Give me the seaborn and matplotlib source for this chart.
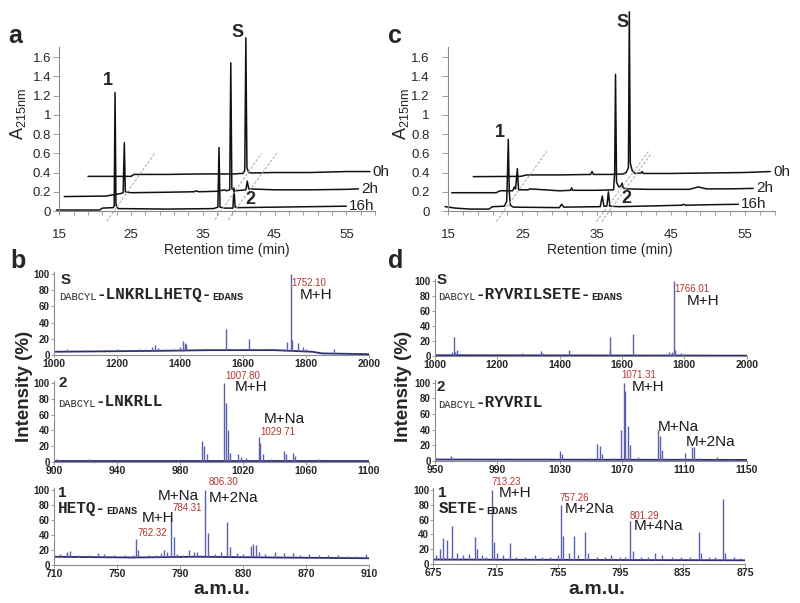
import numpy as np
import matplotlib
matplotlib.use("Agg")
import matplotlib.pyplot as plt
import seaborn as sns

# ---- HPLC traces (retention time in min, A215) ----
A_0H_T = [19.0, 25.0, 25.4, 30.0, 35.0, 39.5, 40.2, 40.6, 40.85, 41.0, 41.15, 41.4, 41.8, 45.0, 50.0, 55.0, 58.3]
A_0H_Y = [0.36, 0.36, 0.38, 0.38, 0.385, 0.385, 0.39, 0.39, 0.42, 1.80, 0.45, 0.40, 0.395, 0.40, 0.40, 0.41, 0.41]
A_2H_T = [15.7, 21.5, 22.6, 23.5, 23.9, 24.06, 24.2, 25.0, 30.0, 33.8, 34.1, 34.4, 37.0, 38.0, 38.3, 38.75,
          38.9, 39.05, 39.5, 41.0, 41.2, 41.4, 45.0, 50.0, 55.0, 56.7]
A_2H_Y = [0.15, 0.155, 0.17, 0.18, 0.19, 0.71, 0.20, 0.19, 0.195, 0.20, 0.21, 0.20, 0.205, 0.22, 0.21, 0.22,
          1.54, 0.23, 0.21, 0.22, 0.31, 0.23, 0.22, 0.22, 0.225, 0.23]
A_16H_T = [14.6, 20.6, 21.0, 22.5, 22.65, 22.77, 22.9, 23.2, 30.0, 36.5, 37.1, 37.26, 37.4, 38.0, 39.2,
           39.35, 39.5, 40.0, 45.0, 50.0, 55.0]
A_16H_Y = [0.01, 0.01, 0.03, 0.035, 0.05, 1.23, 0.06, 0.025, 0.02, 0.025, 0.04, 0.66, 0.04, 0.03, 0.03,
           0.24, 0.04, 0.035, 0.04, 0.045, 0.05]

C_0H_T = [18.4, 24.8, 25.6, 30.0, 34.2, 34.4, 34.6, 37.0, 38.6, 39.0, 39.3, 39.42, 39.55, 39.8, 40.2, 41.0,
          41.15, 41.3, 45.0, 50.0, 55.0, 58.4]
C_0H_Y = [0.357, 0.36, 0.375, 0.375, 0.38, 0.41, 0.38, 0.38, 0.385, 0.40, 0.45, 2.07, 0.50, 0.42, 0.39, 0.395,
          0.41, 0.39, 0.39, 0.395, 0.40, 0.41]
C_2H_T = [15.5, 21.5, 22.0, 23.7, 23.95, 24.1, 24.34, 24.5, 25.8, 26.0, 30.0, 31.5, 31.65, 31.8, 35.0, 37.3,
          37.45, 37.56, 37.7, 38.0, 38.3, 38.45, 38.6, 39.0, 42.0, 47.5, 48.7, 49.8, 53.0, 56.1]
C_2H_Y = [0.19, 0.19, 0.21, 0.21, 0.25, 0.23, 0.44, 0.22, 0.22, 0.23, 0.21, 0.215, 0.24, 0.215, 0.215, 0.22,
          0.40, 1.42, 0.30, 0.25, 0.26, 0.29, 0.24, 0.23, 0.225, 0.225, 0.25, 0.23, 0.23, 0.235]
C_16H_T = [14.6, 16.0, 18.0, 20.5, 21.0, 22.6, 22.9, 23.0, 23.12, 23.25, 23.4, 23.8, 30.0, 30.3, 30.6, 35.5,
           35.78, 36.0, 36.4, 36.6, 36.8, 38.0, 46.5, 46.7, 47.0, 50.0, 54.1]
C_16H_Y = [0.045, 0.03, 0.02, 0.02, 0.045, 0.05, 0.10, 0.35, 0.745, 0.20, 0.06, 0.04, 0.035, 0.07, 0.04, 0.045,
           0.155, 0.05, 0.05, 0.20, 0.05, 0.045, 0.06, 0.07, 0.06, 0.065, 0.07]

TRACE_NAMES = ["0h", "2h", "16h"]
A_GUIDES = [((21.6, -0.107), (28.3, 0.60)), ((36.7, -0.09), (43.2, 0.60)), ((38.55, -0.09), (45.3, 0.60))]
C_GUIDES = [((21.5, -0.11), (28.3, 0.62)), ((35.0, -0.11), (42.0, 0.62)), ((35.7, -0.11), (42.4, 0.60))]

# ---- MS spectra (m/z, intensity %) ----
B_S_BASE_MZ = [1000, 1300, 1500, 1700, 1820, 1850, 2000]
B_S_BASE_I = [4, 5, 6, 6, 4, 2, 1]
B_S_MZ = [1040, 1100, 1150, 1200, 1240, 1270, 1290, 1310, 1320, 1330, 1345, 1380, 1400, 1410, 1415, 1420,
          1460, 1500, 1520, 1545, 1580, 1620, 1650, 1680, 1720, 1740, 1752, 1757, 1775, 1790, 1800, 1820,
          1870, 1890, 1950]
B_S_I = [7, 6, 6, 8, 6, 7, 8, 10, 12, 9, 8, 8, 10, 17, 15, 14,
         7, 7, 8, 32, 7, 20, 8, 6, 8, 16, 100, 18, 15, 10, 7, 5,
         3, 8, 2]

B_2_BASE_MZ = [900, 1100]
B_2_BASE_I = [1, 1]
B_2_MZ = [902, 904, 922, 960, 978, 990, 994, 995.5, 997, 1008, 1009, 1010.5, 1012, 1017, 1019, 1022,
          1030, 1031, 1032.5, 1038, 1046, 1047, 1052, 1053, 1068]
B_2_I = [4, 3, 4, 2, 2, 3, 26, 20, 10, 100, 75, 40, 12, 10, 6, 5,
         32, 24, 10, 4, 14, 10, 11, 7, 4]

B_1_BASE_MZ = [710, 760, 800, 850, 910]
B_1_BASE_I = [11, 10, 11, 10, 9]
B_1_MZ = [714, 718, 720, 726, 732, 738, 742, 748, 755, 760, 762, 763.5, 770, 775, 778, 780, 782, 784.5,
          786, 788, 792, 796, 799, 801, 803, 806, 808, 812, 816, 820, 822, 826, 830, 835, 836.5, 838,
          840, 844, 850, 856, 862, 866, 872, 878, 884, 890, 896, 902, 908]
B_1_I = [15, 17, 19, 14, 13, 16, 15, 13, 14, 13, 35, 20, 14, 13, 16, 20, 18, 62,
         38, 15, 14, 20, 18, 17, 14, 100, 43, 15, 18, 57, 24, 16, 15, 26, 28, 27,
         18, 15, 17, 16, 16, 14, 15, 14, 13, 13, 12, 12, 15]

D_S_BASE_MZ = [1000, 2000]
D_S_BASE_I = [1, 0.5]
D_S_MZ = [1055, 1060, 1065, 1072, 1100, 1200, 1280, 1340, 1345, 1430, 1500, 1520, 1560, 1563, 1600, 1635,
          1700, 1740, 1750, 1760, 1766, 1770, 1790, 1800, 1955]
D_S_I = [5, 26, 6, 8, 2, 2, 4, 7, 4, 8, 2, 2, 25, 8, 2, 30,
         2, 3, 5, 6, 100, 8, 4, 3, 2]

D_2_BASE_MZ = [950, 1150]
D_2_BASE_I = [1.5, 1]
D_2_MZ = [951, 955, 960, 962, 975, 1000, 1010, 1020, 1030, 1031.5, 1050, 1054, 1055.5, 1057, 1065, 1069.5,
          1071, 1072, 1073.5, 1075, 1080, 1093, 1094, 1095.5, 1098, 1108, 1110, 1115, 1116, 1120, 1131, 1140]
D_2_I = [3, 2, 6, 3, 2, 2, 2, 3, 13, 9, 3, 22, 19, 8, 3, 40,
         100, 90, 45, 20, 5, 40, 32, 14, 4, 3, 10, 17, 18, 4, 5, 2]

D_1_BASE_MZ = [675, 875]
D_1_BASE_I = [6, 5]
D_1_MZ = [677, 679, 681, 684, 687, 690, 694, 698, 702, 703, 706, 709, 712.5, 714, 716, 720, 724, 728,
          734, 740, 745, 750, 755, 757, 758, 762, 765.5, 768, 772.5, 774, 780, 785, 789, 795, 798, 801,
          803, 808, 813, 817, 822, 828, 834, 840, 845.5, 847, 852, 856, 860.7, 862, 868, 872]
D_1_I = [12, 20, 35, 33, 52, 15, 12, 14, 37, 20, 12, 10, 100, 30, 15, 12, 28, 10,
         10, 12, 9, 10, 12, 80, 38, 15, 38, 12, 43, 15, 9, 10, 12, 10, 9, 58,
         18, 10, 9, 15, 12, 10, 9, 10, 43, 15, 9, 10, 88, 15, 9, 8]

# ---- styling ----
sns.set_theme(style="ticks")
plt.rcParams["font.family"] = ["Liberation Sans", "DejaVu Sans"]
plt.rcParams["mathtext.fontset"] = "custom"
plt.rcParams["mathtext.rm"] = "Liberation Sans"

RED = "#b3352d"
STEM = "#5b5fae"
NAVY = "#2b2d6e"
GRID = "#8c8c8c"
MONO = "Liberation Mono"

W, H = 800, 603
fig = plt.figure(figsize=(8, 6.03), dpi=100)


def add_ax(left, top, right, bottom):
    return fig.add_axes([left / W, 1 - bottom / H, (right - left) / W, (bottom - top) / H])


def chromatogram(ax, traces, guides, marks, ypad):
    for (t, v), name in zip(traces, TRACE_NAMES):
        sns.lineplot(x=t, y=v, ax=ax, color="#111111", lw=1.1, estimator=None, sort=False, clip_on=False)
        ax.text(t[-1] + 0.4, v[-1], name, fontsize=11, color="#222222", ha="left", va="center", clip_on=False)
    for (x0, y0), (x1, y1) in guides:
        ax.plot([x0, x1], [y0, y1], color="#b0b0b0", lw=0.8, ls=(0, (2.5, 1.5)), clip_on=False)
    for txt, x, y in marks:
        ax.text(x, y, txt, fontsize=13, weight="bold", ha="center", va="center", clip_on=False)
    ax.set_xlim(15, 59)
    ax.set_ylim(0, 1.7)
    ax.set_xticks([15, 25, 35, 45, 55])
    ax.set_xticks(np.arange(15, 60, 2), minor=True)
    ax.set_yticks(np.arange(0, 1.61, 0.2))
    ax.set_yticklabels([f"{v:g}" for v in np.arange(0, 1.61, 0.2).round(1)])
    ax.tick_params(axis="x", which="both", length=3, width=0.6, color=GRID, pad=10, labelsize=9.5)
    ax.tick_params(axis="y", length=4, width=0.6, color=GRID, pad=ypad, labelsize=9.5)
    for s in ["top", "right"]:
        ax.spines[s].set_visible(False)
    for s in ["left", "bottom"]:
        ax.spines[s].set_color(GRID)
        ax.spines[s].set_linewidth(0.8)
    ax.set_xlabel("")
    ax.set_ylabel("")


def spectrum(ax, base_mz, base_i, mz, inten, xticks, tag, seq, notes, seq_xy):
    sns.lineplot(x=base_mz, y=base_i, ax=ax, color=NAVY, lw=1.3, estimator=None, sort=False)
    foot = np.interp(mz, base_mz, base_i)
    ax.vlines(mz, foot, inten, color=STEM, lw=1.0)
    ax.set_xlim(xticks[0], xticks[-1])
    ax.set_ylim(0, 103)
    ax.set_xticks(xticks)
    ax.set_yticks([0, 20, 40, 60, 80, 100])
    ax.tick_params(axis="x", length=2, width=0.6, color=GRID, pad=1, labelsize=7.5)
    ax.tick_params(axis="y", length=2, width=0.6, color=GRID, pad=1, labelsize=7)
    for lab in ax.get_xticklabels() + ax.get_yticklabels():
        lab.set_fontweight("bold")
    for s in ["top", "right"]:
        ax.spines[s].set_visible(False)
    for s in ["left", "bottom"]:
        ax.spines[s].set_color(GRID)
        ax.spines[s].set_linewidth(0.8)
    ax.set_xlabel("")
    ax.set_ylabel("")
    ax.text(tag[1], tag[2], tag[0], fontsize=11, weight="bold", ha="left", va="center")
    prev = ax.annotate(seq[0][0], xy=seq_xy, xytext=(0, -6.5), textcoords="offset points",
                       fontsize=seq[0][1], weight=seq[0][2], family=MONO, ha="left", va="bottom")
    for txt, size, weight in seq[1:]:
        prev = ax.annotate(txt, xy=(1, 0), xycoords=prev, fontsize=size, weight=weight,
                           family=MONO, ha="left", va="bottom")
    for txt, x, y, red in notes:
        ax.text(x, y, txt, fontsize=7 if red else 11, color=RED if red else "#1a1a1a",
                ha="left", va="center", clip_on=False)


# ---- panel a / c ----
ax_a = add_ax(59.3, 47.4, 59.3 + 44 * 7.175, 211)
chromatogram(ax_a, [(A_0H_T, A_0H_Y), (A_2H_T, A_2H_Y), (A_16H_T, A_16H_Y)], A_GUIDES,
             [("S", 39.9, 1.85), ("1", 21.8, 1.36), ("2", 41.7, 0.115)], ypad=2)
ax_c = add_ax(448, 47.4, 448 + 44 * 7.425, 211)
chromatogram(ax_c, [(C_0H_T, C_0H_Y), (C_2H_T, C_2H_Y), (C_16H_T, C_16H_Y)], C_GUIDES,
             [("S", 38.57, 1.96), ("1", 22.0, 0.82), ("2", 39.07, 0.135)], ypad=9)

ylab = r"A$_{\mathregular{215nm}}$"
fig.text(17.5 / W, 1 - 114 / H, ylab, rotation=90, fontsize=13, ha="center", va="center")
fig.text(401 / W, 1 - 114 / H, ylab, rotation=90, fontsize=13, ha="center", va="center")
fig.text(227 / W, 1 - 250 / H, "Retention time (min)", fontsize=10, ha="center", va="center")
fig.text(610 / W, 1 - 250 / H, "Retention time (min)", fontsize=10, ha="center", va="center")

# ---- panel b ----
ax = add_ax(54, 355 - 103 * 0.81, 369, 355)
spectrum(ax, B_S_BASE_MZ, B_S_BASE_I, B_S_MZ, B_S_I, [1000, 1200, 1400, 1600, 1800, 2000],
         ("S", 1020, 93), [("DABCYL", 7.5, "normal"), ("-LNKRLLHETQ-", 11.5, "bold"), ("EDANS", 7.5, "bold")],
         [("1752.10", 1752, 89, True), ("M+H", 1779, 74, False)], (1017, 76))
ax = add_ax(54, 462 - 103 * 0.79, 369, 462)
spectrum(ax, B_2_BASE_MZ, B_2_BASE_I, B_2_MZ, B_2_I, [900, 940, 980, 1020, 1060, 1100],
         ("2", 903, 100), [("DABCYL", 7.5, "normal"), ("-LNKRLL", 11.5, "bold")],
         [("1007.80", 1009, 109, True), ("M+H", 1015, 95, False),
          ("M+Na", 1033, 55, False), ("1029.71", 1031, 38, True)], (902.7, 78.5))
ax = add_ax(54, 565 - 103 * 0.75, 369, 565)
spectrum(ax, B_1_BASE_MZ, B_1_BASE_I, B_1_MZ, B_1_I, [710, 750, 790, 830, 870, 910],
         ("1", 712.7, 95.6), [("HETQ-", 11.5, "bold"), ("EDANS", 7.5, "bold")],
         [("M+H", 765.5, 62, False), ("762.32", 763, 42, True), ("M+Na", 776, 92, False),
          ("784.31", 785, 75.6, True), ("806.30", 808, 111, True), ("M+2Na", 808, 90, False)], (712.7, 77.8))

# ---- panel d ----
ax = add_ax(435, 356 - 103 * 0.75, 746.7, 356)
spectrum(ax, D_S_BASE_MZ, D_S_BASE_I, D_S_MZ, D_S_I, [1000, 1200, 1400, 1600, 1800, 2000],
         ("S", 1005, 101), [("DABCYL", 7.5, "normal"), ("-RYVRILSETE-", 11.5, "bold"), ("EDANS", 7.5, "bold")],
         [("1766.01", 1767, 89, True), ("M+H", 1807, 73.8, False)], (1011, 83.6))
ax = add_ax(435, 460.7 - 103 * 0.78, 747, 460.7)
spectrum(ax, D_2_BASE_MZ, D_2_BASE_I, D_2_MZ, D_2_I, [950, 990, 1030, 1070, 1110, 1150],
         ("2", 951, 95), [("DABCYL", 7.5, "normal"), ("-RYVRIL", 11.5, "bold")],
         [("1071.31", 1069.7, 110, True), ("M+H", 1076, 95, False),
          ("M+Na", 1093, 43.6, False), ("M+2Na", 1111, 24.4, False)], (952, 76))
ax = add_ax(433.3, 564 - 103 * 0.74, 745, 564)
spectrum(ax, D_1_BASE_MZ, D_1_BASE_I, D_1_MZ, D_1_I, [675, 715, 755, 795, 835, 875],
         ("1", 678.2, 95.5), [("SETE-", 11.5, "bold"), ("EDANS", 7.5, "bold")],
         [("713.23", 712.5, 111, True), ("M+H", 716.7, 95.5, False), ("757.26", 756, 89.6, True),
          ("M+2Na", 759.5, 74, False), ("801.29", 801.2, 65, True), ("M+4Na", 803.5, 51, False)], (678.2, 77.4))

for x in [24.5, 404]:
    fig.text(x / W, 1 - 386 / H, "Intensity (%)", rotation=90, fontsize=13.5, weight="bold",
             ha="center", va="center")
fig.text(222 / W, 1 - 590 / H, "a.m.u.", fontsize=14, weight="bold", ha="center", va="center")
fig.text(597 / W, 1 - 590 / H, "a.m.u.", fontsize=14, weight="bold", ha="center", va="center")

for letter, x, y in [("a", 15, 43), ("c", 395, 43), ("b", 17.5, 268), ("d", 396, 268)]:
    fig.text(x / W, 1 - y / H, letter, fontsize=18, weight="bold", ha="center", va="baseline")

fig.savefig("out.png", dpi=100)
